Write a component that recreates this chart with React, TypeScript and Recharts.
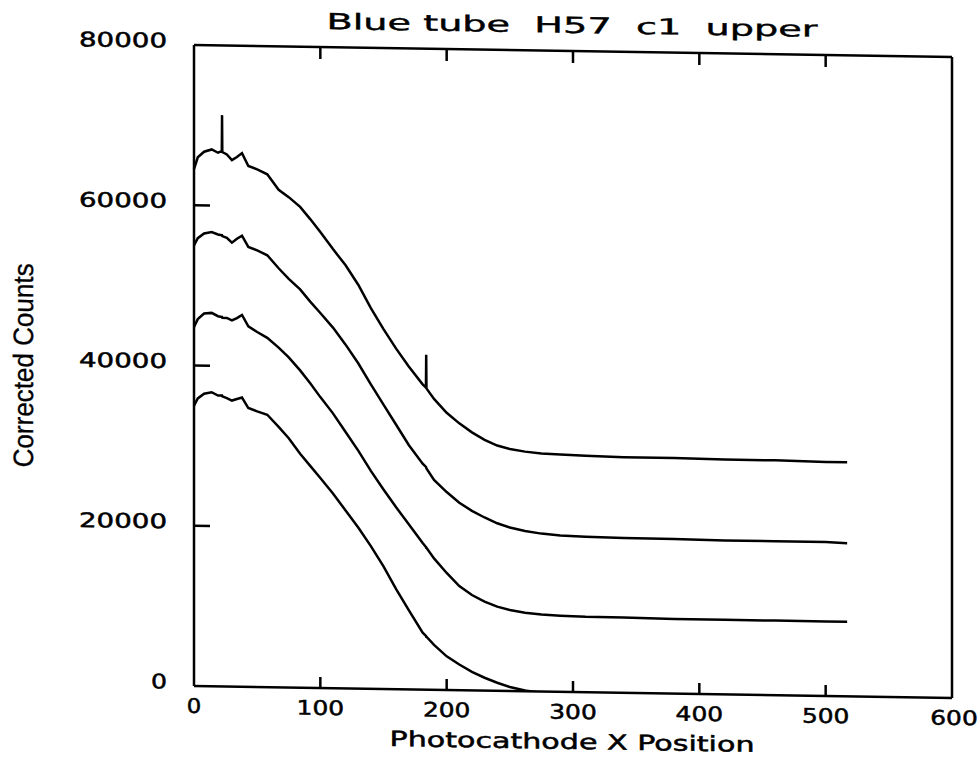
import { LineChart, Line, XAxis, YAxis } from 'recharts'

// Photocathode x position (shared by the four scans)
const xPos = [
  0, 3, 8, 14, 19, 22, 22.2, 22.4, 26, 30, 34, 38, 43, 50, 58, 67, 75, 84, 92, 100,
  110, 120, 130, 140, 150, 160, 170, 181, 183.6, 183.8, 184, 190, 200, 210, 220, 230,
  240, 250, 262, 275, 290, 310, 340, 380, 420, 460, 500, 517,
]

// corrected counts, one array per trace (top to bottom)
const traceA = [
  64500, 66000, 66700, 67000, 66600, 66800, 71300, 66700, 66400, 65700, 66100, 66600,
  65000, 64600, 64000, 62100, 61200, 60000, 58500, 56900, 54800, 52800, 50400, 47500,
  44900, 42500, 40300, 38100, 37700, 41800, 37600, 36300, 34600, 33300, 32200, 31300,
  30600, 30200, 29900, 29700, 29600, 29500, 29400, 29400, 29300, 29300, 29200, 29200,
]
const traceB = [
  55000, 55900, 56500, 56700, 56400, 56300, 56300, 56200, 56000, 55400, 55900, 56300,
  54900, 54500, 53900, 52300, 51000, 49700, 48200, 46800, 45000, 42900, 40600, 38000,
  35500, 33000, 30500, 28200, 27800, 27700, 27600, 26200, 24700, 23400, 22400, 21600,
  20900, 20400, 20000, 19700, 19500, 19400, 19300, 19300, 19200, 19200, 19200, 19100,
]
const traceC = [
  44800, 45800, 46500, 46600, 46200, 46100, 46100, 46000, 46000, 45700, 46000, 46400,
  45000, 44300, 43600, 42400, 41200, 39600, 38000, 36300, 34300, 32000, 29700, 27200,
  24900, 22700, 20600, 18300, 17800, 17700, 17700, 16400, 14600, 13000, 11900, 11100,
  10500, 10100, 9800, 9600, 9500, 9400, 9400, 9300, 9300, 9300, 9300, 9300,
]
const traceD = [
  35000, 35900, 36500, 36700, 36300, 36300, 36300, 36200, 36000, 35700, 35900, 36100,
  34800, 34400, 34000, 32500, 31100, 29200, 27700, 26200, 24300, 22200, 20100, 17800,
  15300, 12500, 9900, 7100, 6700, 6600, 6600, 5600, 4200, 3200, 2300, 1600,
  1000, 500, 100, -200, -400, -500, -600, -600, -600, -600, -600, -600,
]

const xTicks = [0, 100, 200, 300, 400, 500, 600]
const yTicks = [0, 20000, 40000, 60000, 80000]

const chartData = xPos.map((x, i) => ({
  x,
  a: traceA[i],
  b: traceB[i],
  c: traceC[i],
  d: traceD[i],
}))

const INK = '#000'
const NUM_FONT = "'DejaVu Sans', sans-serif"

// bottom axis: inward tick + label under the frame
function BottomTick({ x, y, payload }: any) {
  const v = payload.value
  const s = String(v)
  // the last label sits a touch right of the corner in the scan
  const lx = v === 600 ? x + 2 : x
  return (
    <g>
      {v > 0 && v < 600 && <line x1={x} y1={y} x2={x} y2={y - 11} stroke={INK} strokeWidth={2.5} />}
      <text x={lx} y={y + 27} textAnchor="middle" fontFamily={NUM_FONT} fontSize={20}
        stroke={INK} strokeWidth={0.5} textLength={s.length * 16.5 - 2} lengthAdjust="spacingAndGlyphs"
        fill={INK}>{s}</text>
    </g>
  )
}

function TopTick({ x, y, payload }: any) {
  const v = payload.value
  if (v <= 0 || v >= 600) return <g />
  return <line x1={x} y1={y} x2={x} y2={y + 12} stroke={INK} strokeWidth={2.5} />
}

function LeftTick({ x, y, payload }: any) {
  const v = payload.value
  const s = String(v)
  return (
    <g>
      {v > 0 && v < 80000 && <line x1={x} y1={y} x2={x + 16} y2={y} stroke={INK} strokeWidth={2.5} />}
      <text x={x - 27} y={y + 3} textAnchor="end" fontFamily={NUM_FONT} fontSize={20}
        stroke={INK} strokeWidth={0.5} textLength={s.length * 18 - 2} lengthAdjust="spacingAndGlyphs"
        fill={INK}>{s}</text>
    </g>
  )
}

function RightTick({ x, y, payload }: any) {
  const v = payload.value
  if (v <= 0 || v >= 80000) return <g />
  return <line x1={x} y1={y} x2={x - 15} y2={y} stroke={INK} strokeWidth={2.5} />
}

export default function App() {
  const axisLine = { stroke: INK, strokeWidth: 2.5 }
  return (
    <div
      style={{
        position: 'absolute',
        left: 0,
        top: 0,
        width: 979,
        height: 763,
        background: '#fff',
        transform: 'skewY(0.9deg)',
        transformOrigin: '194px 0px',
      }}
    >
      <LineChart width={979} height={763} data={chartData} margin={{ top: 44, right: 26, bottom: 47, left: 134 }}>
        <XAxis xAxisId="bottom" dataKey="x" type="number" domain={[0, 600]} ticks={xTicks} interval={0}
          height={30} tickSize={0} tickMargin={0} axisLine={axisLine} tickLine={false} tick={BottomTick} />
        <XAxis xAxisId="top" orientation="top" dataKey="x" type="number" domain={[0, 600]} ticks={xTicks}
          interval={0} height={1} tickSize={0} tickMargin={0} axisLine={axisLine} tickLine={false} tick={TopTick} />
        <YAxis yAxisId="left" type="number" domain={[0, 80000]} ticks={yTicks} interval={0} allowDataOverflow
          width={60} tickSize={0} tickMargin={0} axisLine={axisLine} tickLine={false} tick={LeftTick} />
        <YAxis yAxisId="right" orientation="right" type="number" domain={[0, 80000]} ticks={yTicks} interval={0}
          width={1} tickSize={0} tickMargin={0} axisLine={axisLine} tickLine={false} tick={RightTick} />
        {['a', 'b', 'c', 'd'].map((k) => (
          <Line key={k} xAxisId="bottom" yAxisId="left" type="linear" dataKey={k} stroke={INK}
            strokeWidth={2.5} dot={false} activeDot={false} isAnimationActive={false} />
        ))}
      </LineChart>
      <svg width={979} height={763} style={{ position: 'absolute', left: 0, top: 0, pointerEvents: 'none' }}>
        <text x={572} y={27} textAnchor="middle" fontFamily={NUM_FONT} fontSize={22}
          stroke={INK} strokeWidth={0.4} textLength={491} lengthAdjust="spacingAndGlyphs" xmlSpace="preserve"
          style={{ whiteSpace: 'pre' }} fill={INK}>Blue tube  H57  c1  upper</text>
        <text x={572} y={743} textAnchor="middle" fontFamily={NUM_FONT} fontSize={21}
          stroke={INK} strokeWidth={0.5} textLength={365} lengthAdjust="spacingAndGlyphs"
          fill={INK}>Photocathode X Position</text>
        <text x={33} y={368} transform="rotate(-90, 33, 368)" textAnchor="middle"
          fontFamily="'Liberation Sans', Arial, sans-serif" fontSize={28} textLength={204}
          stroke={INK} strokeWidth={0.3} lengthAdjust="spacingAndGlyphs" fill={INK}>Corrected Counts</text>
      </svg>
    </div>
  )
}
